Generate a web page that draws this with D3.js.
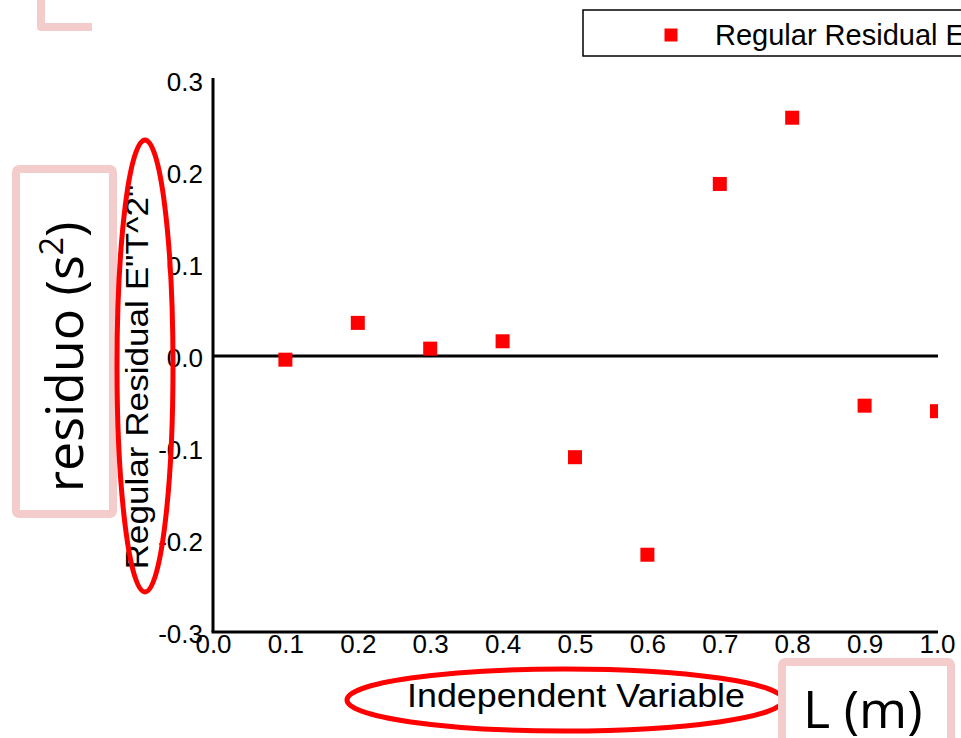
<!DOCTYPE html>
<html>
<head>
<meta charset="utf-8">
<script src="https://cdn.jsdelivr.net/npm/d3@7"></script>
<style>
  html, body { margin: 0; padding: 0; background: #fff; }
  svg { display: block; }
</style>
</head>
<body>
<script>
// ---- data ----
const xValues = [0.1, 0.2, 0.3, 0.4, 0.5, 0.6, 0.7, 0.8, 0.9, 1.0];
const residuals = [-0.004, 0.036, 0.008, 0.016, -0.110, -0.216, 0.187, 0.259, -0.054, -0.060];
const xTicks = [0.0, 0.1, 0.2, 0.3, 0.4, 0.5, 0.6, 0.7, 0.8, 0.9, 1.0];
const xTickLabels = ["0.0", "0.1", "0.2", "0.3", "0.4", "0.5", "0.6", "0.7", "0.8", "0.9", "1.0"];
const yTicks = [-0.3, -0.2, -0.1, 0.0, 0.1, 0.2, 0.3];
const yTickLabels = ["-0.3", "-0.2", "-0.1", "0.0", "0.1", "0.2", "0.3"];
const seriesName = "Regular Residual E\"T^2\"";
const xTitle = "Independent Variable";
const yTitle = "Regular Residual E\"T^2\"";

const W = 961, H = 738;
const svg = d3.select("body").append("svg").attr("width", W).attr("height", H);

const x = d3.scaleLinear().domain([0, 1]).range([213, 937]);
const y = d3.scaleLinear().domain([-0.3, 0.3]).range([632, 80]);

const AX = "Liberation Sans, Arial, sans-serif";

// clip for plot area
svg.append("defs").append("clipPath").attr("id", "plotclip")
  .append("rect").attr("x", 213).attr("y", 60).attr("width", 938 - 213).attr("height", 600);

// zero line
svg.append("line")
  .attr("x1", x(0)).attr("x2", 938)
  .attr("y1", y(0)).attr("y2", y(0))
  .attr("stroke", "#000").attr("stroke-width", 3);

// axes
const yAxis = d3.axisLeft(y).tickValues(yTicks)
  .tickFormat((d, i) => yTickLabels[i]).tickSize(0).tickSizeOuter(0).tickPadding(10);
const gy = svg.append("g").attr("transform", `translate(${x(0)},0)`).call(yAxis);
gy.select(".domain").attr("stroke", "#000").attr("stroke-width", 3).attr("d", `M0,${y(0.3) - 2}V${y(-0.3)}`);
gy.selectAll("text").attr("font-family", AX).attr("font-size", 26).attr("fill", "#000").attr("dy", "0.40em");

const xAxis = d3.axisBottom(x).tickValues(xTicks)
  .tickFormat((d, i) => xTickLabels[i]).tickSize(0).tickSizeOuter(0).tickPadding(3);
const gx = svg.append("g").attr("transform", `translate(0,${y(-0.3)})`).call(xAxis);
gx.select(".domain").attr("stroke", "#000").attr("stroke-width", 3).attr("d", `M${x(0) - 1.5},0H938`);
gx.selectAll("text").attr("font-family", AX).attr("font-size", 26).attr("fill", "#000");

// markers
const ms = 14;
svg.append("g").attr("clip-path", "url(#plotclip)")
  .selectAll("rect").data(xValues).join("rect")
  .attr("x", (d) => x(d) - ms / 2)
  .attr("y", (d, i) => y(residuals[i]) - ms / 2)
  .attr("width", ms).attr("height", ms)
  .attr("fill", "#ff0000");

// axis titles
svg.append("text")
  .attr("x", 407).attr("y", 707)
  .attr("font-family", AX).attr("font-size", 34)
  .attr("textLength", 338).attr("lengthAdjust", "spacingAndGlyphs")
  .text(xTitle);

svg.append("text")
  .attr("transform", "translate(148,377) rotate(-90)")
  .attr("text-anchor", "middle")
  .attr("font-family", AX).attr("font-size", 31)
  .attr("textLength", 385).attr("lengthAdjust", "spacingAndGlyphs")
  .text(yTitle);

// legend
const lg = svg.append("g");
lg.append("rect").attr("x", 583).attr("y", 10).attr("width", 420).attr("height", 46)
  .attr("fill", "#fff").attr("stroke", "#000").attr("stroke-width", 1.5);
lg.append("rect").attr("x", 671 - 6.5).attr("y", 35 - 6.5).attr("width", 13).attr("height", 13).attr("fill", "#ff0000");
lg.append("text").attr("x", 715).attr("y", 45)
  .attr("font-family", AX).attr("font-size", 29).attr("fill", "#000").text(seriesName);

// annotations
const PINK = "#f4cccc";
const ANN = "Open Sans, Noto Sans, sans-serif";

svg.append("path").attr("d", "M41,-6V27H92")
  .attr("fill", "none").attr("stroke", PINK).attr("stroke-width", 8).attr("stroke-linejoin", "round");

svg.append("rect").attr("x", 16).attr("y", 169).attr("width", 97).attr("height", 345).attr("rx", 3)
  .attr("fill", "#fff").attr("stroke", PINK).attr("stroke-width", 8);
const rt = svg.append("text")
  .attr("transform", "translate(83,357) rotate(-90)")
  .attr("text-anchor", "middle")
  .attr("font-family", ANN).attr("font-size", 52).attr("fill", "#000");
rt.append("tspan").text("residuo (s");
rt.append("tspan").attr("font-size", 32).attr("dy", -20).text("2");
rt.append("tspan").attr("dy", 20).text(")");

// red ellipses
svg.append("ellipse").attr("cx", 145).attr("cy", 366).attr("rx", 28).attr("ry", 226)
  .attr("fill", "none").attr("stroke", "#ff0000").attr("stroke-width", 5);
svg.append("ellipse").attr("cx", 565).attr("cy", 700).attr("rx", 218).attr("ry", 31)
  .attr("fill", "none").attr("stroke", "#ff0000").attr("stroke-width", 5);

svg.append("rect").attr("x", 782).attr("y", 662).attr("width", 169).attr("height", 110).attr("rx", 3)
  .attr("fill", "#fff").attr("stroke", PINK).attr("stroke-width", 8);
svg.append("text").attr("x", 803).attr("y", 728)
  .attr("font-family", ANN).attr("font-size", 52).attr("fill", "#000").text("L (m)");
</script>
</body>
</html>
